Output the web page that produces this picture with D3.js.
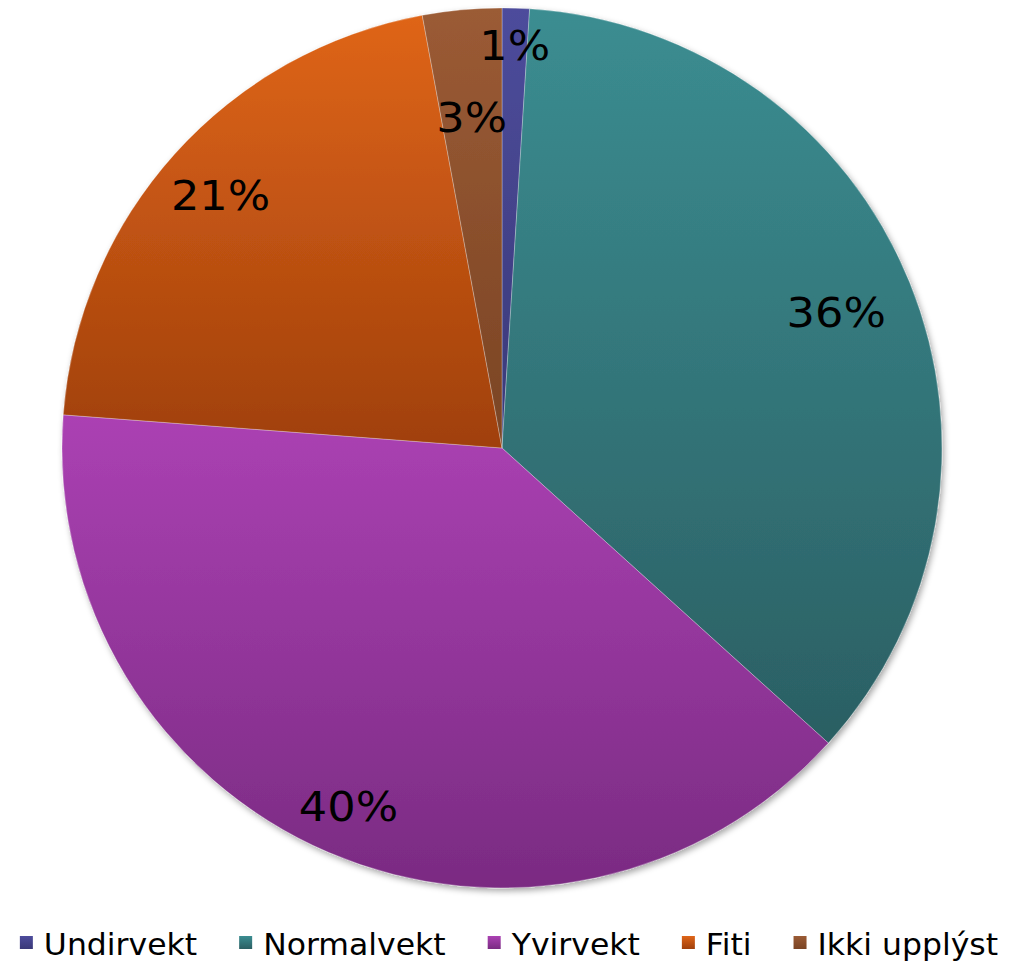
<!DOCTYPE html>
<html lang="fo">
<head>
  <meta charset="UTF-8">
  <title>Pie chart</title>
  <script src="https://d3js.org/d3.v7.min.js"></script>
  <style>
    body { margin: 0; background: #fff; }
    svg { display: block; font-family: "DejaVu Sans", Verdana, sans-serif; }
  </style>
</head>
<body>
  <div id="chart"></div>

  <script>
    // data
    const categories = ["Undirvekt", "Normalvekt", "Yvirvekt", "Fiti", "Ikki upplýst"];
    const values = [1.0, 35.7, 39.5, 20.9, 2.9];
    const labels = ["1%", "36%", "40%", "21%", "3%"];

    // colours (top / bottom of the gradient)
    const topColors = ["#4d4c9c", "#3b8d91", "#ab41b3", "#df6518", "#9b5b35"];
    const bottomColors = ["#3a3978", "#2b5f63", "#7a2b82", "#a0400c", "#7a4424"];
    // excel's best-fit labels sit at different distances from the centre
    const labelRadius = [0.915, 0.82, 0.885, 0.86, 0.755];

    const width = 1010, height = 963;
    const cx = 502, cy = 448, r = 440;

    const svg = d3.select("#chart").append("svg")
      .attr("width", width)
      .attr("height", height);

    const defs = svg.append("defs");

    defs.append("filter")
      .attr("id", "shadow")
      .attr("x", "-10%").attr("y", "-10%")
      .attr("width", "120%").attr("height", "120%")
      .append("feDropShadow")
      .attr("dx", 2).attr("dy", 3)
      .attr("stdDeviation", 3)
      .attr("flood-color", "#000")
      .attr("flood-opacity", 0.35);

    categories.forEach((c, i) => {
      const g = defs.append("linearGradient")
        .attr("id", "grad" + i)
        .attr("x1", 0).attr("y1", 0)
        .attr("x2", 0).attr("y2", 1);
      g.append("stop").attr("offset", "0%").attr("stop-color", topColors[i]);
      g.append("stop").attr("offset", "100%").attr("stop-color", bottomColors[i]);
    });

    const pie = d3.pie().sort(null).value(d => d);
    const arcs = pie(values);

    const arc = d3.arc().innerRadius(0).outerRadius(r);

    const g = svg.append("g").attr("transform", `translate(${cx},${cy})`);

    g.append("g")
      .attr("filter", "url(#shadow)")
      .selectAll("path")
      .data(arcs)
      .enter()
      .append("path")
      .attr("d", arc)
      .attr("fill", (d, i) => `url(#grad${i})`)
      .attr("stroke", "rgba(255,255,255,0.35)")
      .attr("stroke-width", 0.8);

    g.selectAll("text.lbl")
      .data(arcs)
      .enter()
      .append("text")
      .attr("class", "lbl")
      .attr("transform", (d, i) => {
        const a = (d.startAngle + d.endAngle) / 2;
        const rr = r * labelRadius[i];
        return `translate(${rr * Math.sin(a)},${-rr * Math.cos(a)}) scale(1.09,1)`;
      })
      .attr("text-anchor", "middle")
      .attr("dy", "0.36em")
      .attr("font-size", 41)
      .attr("fill", "#000")
      .text((d, i) => labels[i]);

    // legend
    const legend = svg.append("g").attr("transform", "translate(0,955)");
    const fontSize = 30, box = 13, boxGap = 11, itemGap = 42, sx = 1.05;
    let x = 0;
    const items = [];
    categories.forEach((c, i) => {
      const it = legend.append("g");
      it.append("rect")
        .attr("x", 0).attr("y", -19)
        .attr("width", box).attr("height", box)
        .attr("fill", `url(#grad${i})`);
      const t = it.append("text")
        .attr("transform", `translate(${box + boxGap},0) scale(${sx},1)`)
        .attr("font-size", fontSize)
        .attr("fill", "#000")
        .text(c);
      const w = box + boxGap + t.node().getComputedTextLength() * sx;
      items.push({ it, x });
      x += w + itemGap;
    });
    const total = x - itemGap;
    const start = 509 - total / 2;
    items.forEach(d => d.it.attr("transform", `translate(${start + d.x},0)`));
  </script>
</body>
</html>
